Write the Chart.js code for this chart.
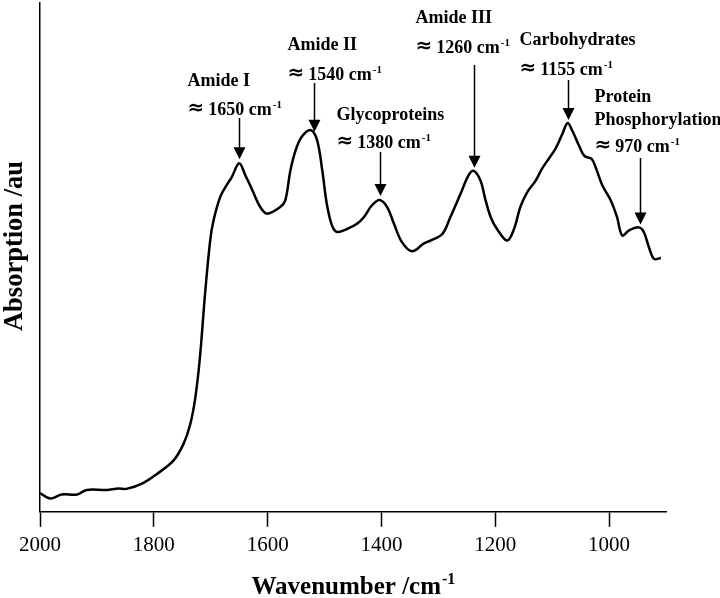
<!DOCTYPE html>
<html>
<head>
<meta charset="utf-8">
<script src="https://cdn.jsdelivr.net/npm/chart.js@4.4.1/dist/chart.umd.min.js"></script>
<style>
  html, body { margin: 0; padding: 0; background: #fff; }
</style>
</head>
<body>
<canvas id="ftirChart" width="720" height="598"></canvas>
<script>
// spectrum (wavenumber in cm-1, absorption in arbitrary units)
const wavenumbers = [2000, 1982, 1962, 1935, 1918, 1883, 1862, 1848, 1818, 1795,
  1766, 1748, 1736, 1727, 1719, 1710, 1701, 1695, 1683, 1672,
  1663, 1650, 1639, 1628, 1613, 1601, 1578, 1569, 1560, 1551,
  1540, 1524, 1513, 1504, 1496, 1487, 1478, 1460, 1443, 1431,
  1417, 1403, 1390, 1378, 1364, 1346, 1326, 1314, 1293, 1279,
  1261, 1247, 1238, 1226, 1217, 1208, 1197, 1179, 1167, 1156,
  1144, 1129, 1118, 1106, 1094, 1082, 1073, 1065, 1053, 1043,
  1031, 1024, 1012, 997, 986, 977, 965, 948, 939, 930,
  921, 909];
const absorption = [3.7, 2.6, 3.4, 3.4, 4.3, 4.3, 4.6, 4.5, 5.7, 7.4,
  10.0, 13.3, 17.2, 22.5, 30.3, 42.8, 53.3, 57.3, 62.0, 64.2,
  65.8, 68.5, 66.1, 63.5, 59.9, 58.6, 59.9, 61.2, 67.1, 71.0,
  73.7, 75.0, 73.0, 67.1, 60.5, 56.3, 55.0, 55.6, 56.6, 57.9,
  60.2, 61.3, 59.9, 56.6, 53.0, 51.2, 52.7, 53.3, 54.6, 57.9,
  62.5, 66.1, 67.0, 65.1, 61.2, 57.9, 55.6, 53.3, 55.6, 59.9,
  62.8, 65.1, 67.4, 69.4, 71.4, 74.3, 76.4, 75.0, 72.0, 69.9,
  69.4, 67.8, 64.2, 61.2, 57.9, 54.3, 55.3, 55.9, 55.0, 52.0,
  49.7, 49.9];
const xTicks = [2000, 1800, 1600, 1400, 1200, 1000];

// band annotations
const bandNames = [['Amide I'], ['Amide II'], ['Glycoproteins'], ['Amide III'], ['Carbohydrates'], ['Protein', 'Phosphorylation']];
const bandLabels = ['1650', '1540', '1380', '1260', '1155', '970'];
const bandPeaks = [1650, 1518, 1403, 1237, 1072, 946];

// where the annotation text sits (pixels) relative to its arrow
const noteLayout = [
  { dx: -52, lines: [86, 115], top: 118 },
  { dx: -27, lines: [50, 80], top: 83 },
  { dx: -44, lines: [120, 148], top: 152 },
  { dx: -59, lines: [23, 53], top: 65 },
  { dx: -49, lines: [45, 75], top: 80 },
  { dx: -46, lines: [102, 125, 152], top: 158 }
];

const SERIF = '"Liberation Serif", "Times New Roman", serif';

function valueAt(w) {
  for (let i = 0; i < wavenumbers.length - 1; i++) {
    const a = wavenumbers[i], b = wavenumbers[i + 1];
    if (w <= a && w >= b) {
      const t = (a - w) / (a - b);
      return absorption[i] + t * (absorption[i + 1] - absorption[i]);
    }
  }
  return absorption[absorption.length - 1];
}

// text with a raised "-1"
function supText(ctx, main, sup, x, y, size) {
  ctx.font = 'bold ' + size + 'px ' + SERIF;
  ctx.fillText(main, x, y);
  const w = ctx.measureText(main).width;
  ctx.font = 'bold ' + Math.round(size * 0.62) + 'px ' + SERIF;
  ctx.fillText(sup, x + w + 1, y - size * 0.4);
  return w + ctx.measureText(sup).width + 1;
}

// "≈ 1650 cm-1" line
function waveLine(ctx, label, x, y) {
  ctx.font = 'bold 20px "DejaVu Sans", sans-serif';
  ctx.fillText('\u2248', x, y - 1);
  const w = ctx.measureText('\u2248').width;
  supText(ctx, label + ' cm', '-1', x + w + 4, y, 18);
}

const notesPlugin = {
  id: 'bandNotes',
  afterDatasetsDraw(chart) {
    const { ctx, scales: { x, y } } = chart;
    ctx.save();
    ctx.fillStyle = '#000';
    ctx.strokeStyle = '#000';
    ctx.textAlign = 'left';
    ctx.textBaseline = 'alphabetic';
    bandPeaks.forEach((w, i) => {
      const lay = noteLayout[i];
      const ax = Math.round(x.getPixelForValue(w)) + 0.5;
      const tip = y.getPixelForValue(valueAt(w)) - 4;
      const left = ax + lay.dx;
      ctx.font = 'bold 18px ' + SERIF;
      bandNames[i].forEach((t, j) => ctx.fillText(t, left, lay.lines[j]));
      waveLine(ctx, bandLabels[i], left, lay.lines[bandNames[i].length]);
      ctx.lineWidth = 1.5;
      ctx.beginPath();
      ctx.moveTo(ax, lay.top);
      ctx.lineTo(ax, tip - 10);
      ctx.stroke();
      ctx.beginPath();
      ctx.moveTo(ax - 6, tip - 12);
      ctx.lineTo(ax + 6, tip - 12);
      ctx.lineTo(ax, tip);
      ctx.closePath();
      ctx.fill();
    });
    ctx.restore();
  }
};

const titlesPlugin = {
  id: 'axisTitles',
  afterDraw(chart) {
    const { ctx, chartArea } = chart;
    ctx.save();
    ctx.fillStyle = '#000';
    ctx.textBaseline = 'alphabetic';
    // x title, centred under the plot
    ctx.font = 'bold 25px ' + SERIF;
    const main = 'Wavenumber /cm';
    const mw = ctx.measureText(main).width;
    ctx.font = 'bold 15px ' + SERIF;
    const sw = ctx.measureText('-1').width;
    const cx = (chartArea.left + chartArea.right) / 2;
    supText(ctx, main, '-1', cx - (mw + sw + 1) / 2, 594, 25);
    // y title, rotated
    ctx.translate(22, 246);
    ctx.rotate(-Math.PI / 2);
    ctx.textAlign = 'center';
    ctx.font = 'bold 26.5px ' + SERIF;
    ctx.fillText('Absorption /au', 0, 0);
    ctx.restore();
  }
};

new Chart(document.getElementById('ftirChart'), {
  type: 'line',
  data: {
    datasets: [{
      data: wavenumbers.map((w, i) => ({ x: w, y: absorption[i] })),
      borderColor: '#000',
      borderWidth: 2.5,
      pointRadius: 0,
      tension: 0.35,
      fill: false
    }]
  },
  options: {
    responsive: false,
    animation: false,
    devicePixelRatio: 1,
    layout: { padding: { left: 40, right: 54, top: 3, bottom: 34 } },
    plugins: { legend: { display: false }, tooltip: { enabled: false } },
    scales: {
      x: {
        type: 'linear',
        reverse: true,
        min: 900,
        max: 2000,
        afterBuildTicks: (scale) => { scale.ticks = xTicks.map(v => ({ value: v })); },
        grid: { drawOnChartArea: false, tickLength: 15, tickColor: '#000', tickWidth: 1.5 },
        border: { display: true, color: '#000', width: 1.5 },
        ticks: {
          color: '#000', padding: 6, maxRotation: 0,
          font: { family: SERIF, size: 21 },
          callback: (v) => String(v)
        }
      },
      y: {
        min: 0,
        max: 100,
        grid: { display: false, drawTicks: false },
        border: { display: true, color: '#000', width: 1.5 },
        ticks: { display: false }
      }
    }
  },
  plugins: [notesPlugin, titlesPlugin]
});
</script>
</body>
</html>
